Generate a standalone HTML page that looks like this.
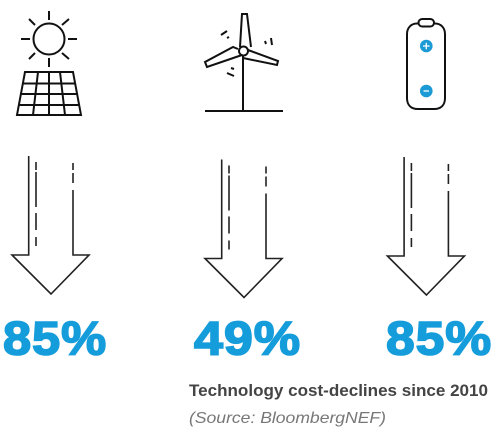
<!DOCTYPE html>
<html lang="en">
<head>
<meta charset="utf-8">
<title>Technology cost-declines since 2010</title>
<style>
html,body{margin:0;padding:0;background:#fff}
svg{display:block}
.l{fill:none;stroke:#111;stroke-width:2;stroke-linecap:butt;stroke-linejoin:miter}
.a{fill:none;stroke:#222;stroke-width:1.6;stroke-linejoin:miter}
.pct{font-family:"Liberation Sans",sans-serif;font-weight:700;font-size:47px;letter-spacing:.8px;fill:#149cdb;stroke:#149cdb;stroke-width:1.6}
</style>
</head>
<body>
<svg width="500" height="438" viewBox="0 0 500 438" xmlns="http://www.w3.org/2000/svg">
  <g>
    <circle class="l" cx="49" cy="39" r="15.500"/>
    <path class="l" d="M49 11V20M49 58V67M21 39H30M68 39H77M29 19L35 25M69 19L62 25M29 59L35 53M69 59L62 53"/>
    <path class="l" d="M25 72H73L81 115H17ZM23 83.500H75M20.500 94H78M19 105H79.500M38 72L33 115M49 72V115M60 72L65 115"/>
  </g>
  <g>
    <path class="l" d="M243 56V111M205 111H283"/>
    <path class="l" stroke-linejoin="round" d="M240 47L242 14H247L251 47"/>
    <path class="l" d="M238 49L233 47L205 62L207 67L242 55"/>
    <path class="l" d="M248 50L278 61L277 65L243 58"/>
    <circle class="l" cx="243.500" cy="51" r="4.500"/>
    <path class="l" d="M221 35L227 31M227 38L229 37M265 41L266 44M271 38L272 45M227 73L234 76M231 68L234 69"/>
  </g>
  <g>
    <path class="l" d="M418 23.500H417C411 23.500 407 28 407 34V98C407 105 411 109 418 109H434C441 109 445 105 445 98V34C445 28 441 23.500 435 23.500H434"/>
    <rect class="l" x="418.500" y="19" width="15.500" height="7.500" rx="3.700"/>
    <circle cx="426.300" cy="46" r="6.300" fill="#1b9ad6"/>
    <path d="M423 46H429.600M426.300 42.700V49.300" stroke="#fff" stroke-width="1.300"/>
    <circle cx="426.300" cy="91" r="6.300" fill="#1b9ad6"/>
    <path d="M423.500 91H429" stroke="#fff" stroke-width="1.300"/>
  </g>
  <g>
    <path class="a" d="M28.700 156V255H12L51 294L89 255H73V190"/>
    <path class="a" d="M36 162V170M36 172V207M36 213V230M36 237V246M73 163V170M73 173V183"/>
  </g>
  <g transform="translate(193 3.500)">
    <path class="a" d="M28.700 156V255H12L51 294L89 255H73V190"/>
    <path class="a" d="M36 162V170M36 172V207M36 213V230M36 237V246M73 163V170M73 173V183"/>
  </g>
  <g transform="translate(375.400 1)">
    <path class="a" d="M28.700 156V255H12L51 294L89 255H73V190"/>
    <path class="a" d="M36 162V170M36 172V207M36 213V230M36 237V246M73 163V170M73 173V183"/>
  </g>
  <text class="pct" x="3" y="354.500" textLength="104" lengthAdjust="spacingAndGlyphs">85%</text>
  <text class="pct" x="194" y="354.500" textLength="107" lengthAdjust="spacingAndGlyphs">49%</text>
  <text class="pct" x="386" y="354.500" textLength="106" lengthAdjust="spacingAndGlyphs">85%</text>
  <text x="189" y="396" font-family="'Liberation Sans',sans-serif" font-weight="700" font-size="16.500" fill="#444" textLength="299" lengthAdjust="spacingAndGlyphs">Technology cost-declines since 2010</text>
  <text x="189" y="423" font-family="'Liberation Sans',sans-serif" font-style="italic" font-size="16" fill="#777" textLength="197" lengthAdjust="spacingAndGlyphs">(Source: BloombergNEF)</text>
</svg>
</body>
</html>
